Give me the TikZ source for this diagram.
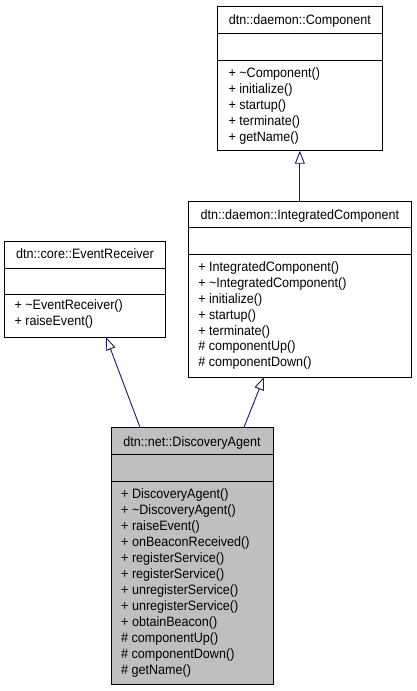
\documentclass[tikz,border=0pt]{standalone}
\usepackage{fontspec}
\setmainfont{Liberation Sans}[FakeStretch=0.925]
\usetikzlibrary{arrows.meta}
\definecolor{edgeblue}{HTML}{191970}
\definecolor{dagray}{HTML}{BFBFBF}
\begin{document}
\begin{tikzpicture}[x=1pt,y=-1pt,
  classbox/.style={draw=black, line width=0.9pt, fill=white, inner sep=0pt, outer sep=0pt},
  divider/.style={draw=black, line width=0.9pt},
  txt/.style={inner sep=0pt, outer sep=0pt, font=\fontsize{13.6}{16}\selectfont},
  rowtxt/.style={txt, anchor=base west},
  titletxt/.style={txt, anchor=base},
  inh/.style={draw=edgeblue, line width=0.9pt, -{Triangle[open, length=13pt, width=10pt, fill=white]}}
]
\useasboundingbox (0,0) rectangle (416,691);
\fill[white] (0,0) rectangle (416,691);

% dtn::daemon::Component
\node[classbox, minimum width=164.3pt, minimum height=144.7pt] (comp) at (299.85,78.35) {};
\draw[divider] (comp.west |- 0,33.3) -- (comp.east |- 0,33.3);
\draw[divider] (comp.west |- 0,60) -- (comp.east |- 0,60);
\node[titletxt] (compt) at (299.85,24.7) {dtn::daemon::Component};
\foreach \t [count=\i] in {{+ \textasciitilde Component()},{+ initialize()},{+ startup()},{+ terminate()},{+ getName()}}
  \node[rowtxt] (comp-\i) at (228.5,77.3+16*\i-16) {\t};

% dtn::daemon::IntegratedComponent
\node[classbox, minimum width=222.3pt, minimum height=175.3pt] (ic) at (299.85,289.35) {};
\draw[divider] (ic.west |- 0,227.7) -- (ic.east |- 0,227.7);
\draw[divider] (ic.west |- 0,254.3) -- (ic.east |- 0,254.3);
\node[titletxt] (ict) at (299.85,219.3) {dtn::daemon::IntegratedComponent};
\foreach \t [count=\i] in {{+ IntegratedComponent()},{+ \textasciitilde IntegratedComponent()},{+ initialize()},{+ startup()},{+ terminate()},{\# componentUp()},{\# componentDown()}}
  \node[rowtxt] (ic-\i) at (198.3,271.7+15.85*\i-15.85) {\t};

% dtn::core::EventReceiver
\node[classbox, minimum width=161.4pt, minimum height=96pt] (er) at (85,289) {};
\draw[divider] (er.west |- 0,268.3) -- (er.east |- 0,268.3);
\draw[divider] (er.west |- 0,294.3) -- (er.east |- 0,294.3);
\node[titletxt] (ert) at (85,258.3) {dtn::core::EventReceiver};
\foreach \t [count=\i] in {{+ \textasciitilde EventReceiver()},{+ raiseEvent()}}
  \node[rowtxt] (er-\i) at (14.5,309.3+16*\i-16) {\t};

% dtn::net::DiscoveryAgent
\node[classbox, fill=dagray, minimum width=162pt, minimum height=257pt] (da) at (192,555.8) {};
\draw[divider] (da.west |- 0,454) -- (da.east |- 0,454);
\draw[divider] (da.west |- 0,481) -- (da.east |- 0,481);
\node[titletxt] (dat) at (192,446.5) {dtn::net::DiscoveryAgent};
\foreach \t [count=\i] in {{+ DiscoveryAgent()},{+ \textasciitilde DiscoveryAgent()},{+ raiseEvent()},{+ onBeaconReceived()},{+ registerService()},{+ registerService()},{+ unregisterService()},{+ unregisterService()},{+ obtainBeacon()},{\# componentUp()},{\# componentDown()},{\# getName()}}
  \node[rowtxt] (da-\i) at (121.2,498.9+16*\i-16) {\t};

% inheritance edges
\draw[inh] (ic.north) -- (comp.south);
\draw[inh] (da.north -| 140,0) -- (er.south -| 106,0);
\draw[inh] (da.north -| 244,0) -- (ic.south -| 264,0);
\end{tikzpicture}
\end{document}
